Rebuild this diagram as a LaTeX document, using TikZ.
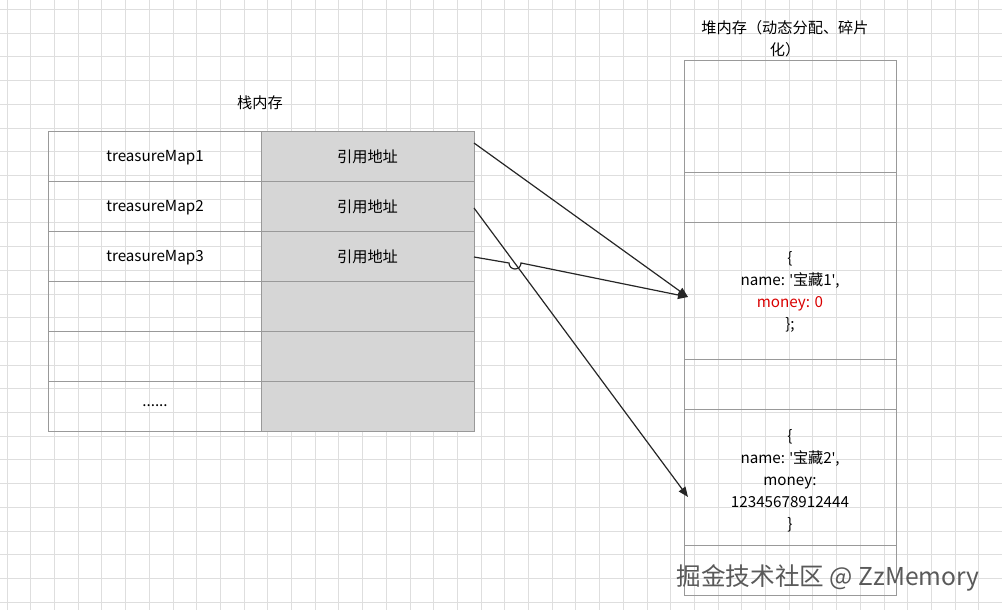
\documentclass[tikz,border=0pt]{standalone}
\usepackage{fontspec}
\setmainfont{Noto Sans CJK SC}
\newfontfamily\latinfont{Noto Sans}
\newcommand{\qt}{{\latinfont\textquotesingle}}
\usetikzlibrary{arrows.meta,positioning}
\tikzset{
    grid color/.style={black!13},
    cell/.style={draw=black!40,minimum width=106.5pt,minimum height=25pt,inner sep=0pt,outer sep=0pt},
    addr cell/.style={cell,fill=black!16},
    heap cell/.style={draw=black!40,minimum width=106pt,inner sep=0pt,outer sep=0pt,align=center},
    arr/.style={-{Triangle[length=5pt,width=4pt]},black!85,semithick},
}
\tikzstyle{every node}=[font=\fontsize{7.6}{11}\selectfont]

\begin{document}
\begin{tikzpicture}[x=0.5pt,y=-0.5pt]
    \useasboundingbox (0,0) rectangle (1002,610);
    % background grid
    \foreach \i in {0,...,41}
        \draw[grid color] (7+23.7*\i,0) -- (7+23.7*\i,610);
    \foreach \j in {0,...,25}
        \draw[grid color] (0,9.5+23.7*\j) -- (1002,9.5+23.7*\j);

    % stack
    \node at (260,103) (stacklbl) {栈内存};
    \node[cell,text depth=-3pt] at (155,156) (n1) {treasureMap1};
    \node[addr cell,text depth=-3pt] at (367.5,156) (a1) {引用地址};
    \node[cell,below=0pt of n1,text depth=-3pt] (n2) {treasureMap2};
    \node[addr cell,below=0pt of a1,text depth=-3pt] (a2) {引用地址};
    \node[cell,below=0pt of n2,text depth=-3pt] (n3) {treasureMap3};
    \node[addr cell,below=0pt of a2,text depth=-3pt] (a3) {引用地址};
    \node[cell,below=0pt of n3] (n4) {};
    \node[addr cell,below=0pt of a3] (a4) {};
    \node[cell,below=0pt of n4] (n5) {};
    \node[addr cell,below=0pt of a4] (a5) {};
    \node[cell,below=0pt of n5,text depth=-3pt] (n6) {......};
    \node[addr cell,below=0pt of a5] (a6) {};

    % heap
    \node[align=center] at (785,39) (heaplbl) {堆内存（动态分配、碎片\\化）};
    \node[heap cell,minimum height=56pt,anchor=north] at (790,60) (h1) {};
    \node[heap cell,minimum height=25pt,below=0pt of h1] (h2) {};
    \node[heap cell,minimum height=68.5pt,below=0pt of h2] (h3) {};
    \node[align=center] at ([yshift=-0.5pt]h3.center) (obj1)
        {\{\\name: \qt 宝藏1\qt,\\\textcolor{red!85!black}{money: 0}\\\};};
    \node[heap cell,minimum height=25pt,below=0pt of h3] (h4) {};
    \node[heap cell,minimum height=68pt,below=0pt of h4] (h5) {};
    \node[align=center] at ([yshift=-2pt]h5.center) (obj2)
        {\{\\name: \qt 宝藏2\qt,\\money:\\12345678912444\\\}};
    \node[heap cell,minimum height=25pt,below=0pt of h5] (h6) {};
    \coordinate (t1) at (688,297);
    \coordinate (t2) at (688,497);

    % references
    \draw[arr] (a1.east |- 0,143) -- (t1);
    \draw[arr] (a2.east |- 0,208) -- (t2);
    \draw[arr] (a3.east |- 0,257) -- (509,263) arc[start angle=180,end angle=0,radius=6] -- (t1);

    \node[text=black!65,font=\fontsize{12.3}{13}\selectfont] at (828,578) (mark) {掘金技术社区 @ ZzMemory};
\end{tikzpicture}
\end{document}
